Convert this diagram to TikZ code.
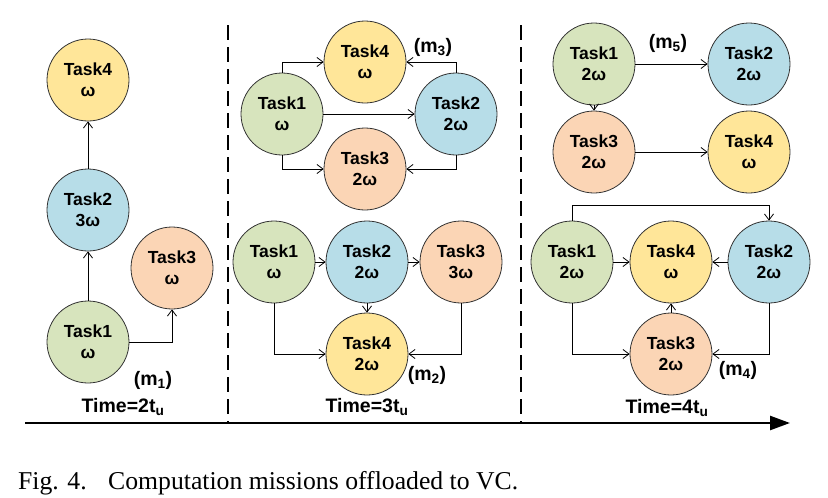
\documentclass[tikz,border=0pt]{standalone}
\usepackage{fontspec}
\setmainfont{Liberation Serif}
\newfontfamily\arialfont{Liberation Sans}
\usetikzlibrary{arrows.meta}
\definecolor{cgreen}{HTML}{D7E4BD}
\definecolor{cblue}{HTML}{B7DDE8}
\definecolor{cpeach}{HTML}{FBD5B5}
\definecolor{cyellow}{HTML}{FFE699}
\definecolor{cline}{HTML}{333333}
\tikzset{
  task/.style={circle, draw=cline, line width=0.8pt, minimum size=82pt, inner sep=0pt,
    align=center, font=\arialfont\bfseries\fontsize{17.5}{21}\selectfont},
  tg/.style={task, fill=cgreen},
  tb/.style={task, fill=cblue},
  tp/.style={task, fill=cpeach},
  ty/.style={task, fill=cyellow},
  arr/.style={line width=0.8pt, -{Straight Barb[length=6pt,width=9pt]}},
  lbl/.style={font=\arialfont\bfseries\fontsize{19.5}{22}\selectfont, inner sep=0pt},
  sep/.style={line width=2pt, dash pattern=on 15pt off 7pt},
}
\begin{document}
\begin{tikzpicture}[x=1pt,y=-1pt]
\useasboundingbox (0,0) rectangle (828,498);
% panel 1
\node[tg] (a1) at (88,342) {Task1\\ω};
\node[tb] (a2) at (88,210) {Task2\\3ω};
\node[tp] (a3) at (172,268) {Task3\\ω};
\node[ty] (a4) at (88,80) {Task4\\ω};
\draw[arr] (a1) -- (a2);
\draw[arr] (a2) -- (a4);
\draw[arr] (a1.east) -| (a3.south);
\node[lbl] (m1) at (153,380) {(m\textsubscript{1})};
\node[lbl] (t1) at (123,407) {Time=2t\textsubscript{u}};
% panel 2 top
\node[tg] (b1) at (282,114) {Task1\\ω};
\node[tb] (b2) at (456,114) {Task2\\2ω};
\node[tp] (b3) at (365,169) {Task3\\2ω};
\node[ty] (b4) at (365,62) {Task4\\ω};
\draw[arr] (b1.north) |- (b4.west);
\draw[arr] (b2.north) |- (b4.east);
\draw[arr] (b1) -- (b2);
\draw[arr] (b1.south) |- (b3.west);
\draw[arr] (b2.south) |- (b3.east);
\node[lbl] (m3) at (433,47) {(m\textsubscript{3})};
% panel 2 bottom
\node[tg] (c1) at (274,262) {Task1\\ω};
\node[tb] (c2) at (367,262) {Task2\\2ω};
\node[tp] (c3) at (461,262) {Task3\\3ω};
\node[ty] (c4) at (367,354) {Task4\\2ω};
\draw[arr] (c1) -- (c2);
\draw[arr] (c2) -- (c3);
\draw[arr] (c2) -- (c4);
\draw[arr] (c1.south) |- (c4.west);
\draw[arr] (c3.south) |- (c4.east);
\node[lbl] (m2) at (427,375) {(m\textsubscript{2})};
\node[lbl] (t2) at (367,407) {Time=3t\textsubscript{u}};
% panel 3 top
\node[tg] (d1) at (594,64) {Task1\\2ω};
\node[tb] (d2) at (749,64) {Task2\\2ω};
\node[tp] (d3) at (594,152) {Task3\\2ω};
\node[ty] (d4) at (749,152) {Task4\\ω};
\draw[arr] (d1) -- (d2);
\draw[arr] (d1) -- (d3);
\draw[arr] (d3) -- (d4);
\node[lbl] (m5) at (668,43) {(m\textsubscript{5})};
% panel 3 bottom
\node[tg] (e1) at (572,262) {Task1\\2ω};
\node[ty] (e4) at (671,262) {Task4\\ω};
\node[tb] (e2) at (769,262) {Task2\\2ω};
\node[tp] (e3) at (671,354) {Task3\\2ω};
\draw[arr] (e1.north) -- ++(0,-15) -| (e2.north);
\draw[arr] (e1) -- (e4);
\draw[arr] (e2) -- (e4);
\draw[arr] (e3) -- (e4);
\draw[arr] (e1.south) |- (e3.west);
\draw[arr] (e2.south) |- (e3.east);
\node[lbl] (m4) at (738,370) {(m\textsubscript{4})};
\node[lbl] (t3) at (667,408) {Time=4t\textsubscript{u}};
% separators and axis
\coordinate (s1t) at (228,25);
\coordinate (s1b) at (228,423);
\coordinate (s2t) at (521,25);
\coordinate (s2b) at (521,423);
\draw[sep] (s1t) -- (s1b);
\draw[sep] (s2t) -- (s2b);
\coordinate (ax0) at (25,423);
\coordinate (ax1) at (790,423);
\draw[line width=2.5pt, -{Triangle[length=20pt,width=14pt]}] (ax0) -- (ax1);
% caption
\node[anchor=base west, inner sep=0pt, font=\fontsize{25.7}{30}\selectfont] (fig) at (18,489) {Fig. 4.};
\node[anchor=base west, inner sep=0pt, font=\fontsize{25.7}{30}\selectfont] (cap) at (108,489) {Computation missions offloaded to VC.};
\end{tikzpicture}
\end{document}
